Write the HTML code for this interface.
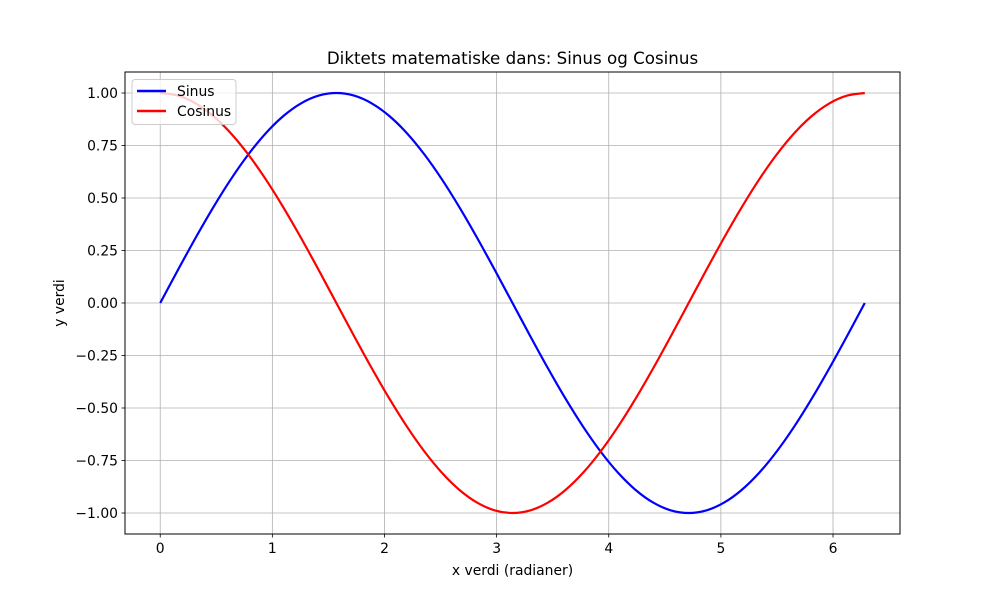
<!DOCTYPE html>
<html><head><meta charset="utf-8"><style>
body{margin:0;background:#fff}
svg text{font-family:"DejaVu Sans","Liberation Sans",sans-serif;fill:#000}
</style></head><body>
<svg id="chart" width="1000" height="600" xmlns="http://www.w3.org/2000/svg">
<rect width="1000" height="600" fill="#fff"/>
<g id="grid"></g>
<g id="series"></g>
<rect x="125" y="72" width="775" height="462" fill="none" stroke="#000" stroke-width="1"/>
<g id="ticks"></g>
<text x="512.5" y="64" font-size="16.7" text-anchor="middle">Diktets matematiske dans: Sinus og Cosinus</text>
<text x="512.5" y="575" font-size="13.9" text-anchor="middle">x verdi (radianer)</text>
<text x="64" y="303" font-size="13.9" text-anchor="middle" transform="rotate(-90 64 303)">y verdi</text>
<g>
<rect x="132" y="79.5" width="104" height="45" rx="3" fill="#fff" fill-opacity="0.8" stroke="#ccc"/>
<g>
<line x1="137" y1="91" x2="166" y2="91" stroke="#0000ff" stroke-width="2.5"/>
<text x="177" y="96" font-size="13.9">Sinus</text></g>
<g>
<line x1="137" y1="111" x2="166" y2="111" stroke="#ff0000" stroke-width="2.5"/>
<text x="177" y="116" font-size="13.9">Cosinus</text></g>
</g>
</svg>
<script>
const xTicks=[0,1,2,3,4,5,6];
const yTicks=[-1.0,-0.75,-0.5,-0.25,0,0.25,0.5,0.75,1.0];
const yTickLabels=["\u22121.00","\u22120.75","\u22120.50","\u22120.25","0.00","0.25","0.50","0.75","1.00"];
const steps=[0,1,2,3,4,5,6,7,8,9,10,11,12,13,14,15,16,17,18,19,20,21,22,23,24,25,26,27,28,29,30,31,32,33,34,35,36,37,38,39,40];
const sinValues=[0,0.1564,0.3090,0.4540,0.5878,0.7071,0.8090,0.8910,0.9511,0.9877,1,0.9877,0.9511,0.8910,0.8090,0.7071,0.5878,0.4540,0.3090,0.1564,0,-0.1564,-0.3090,-0.4540,-0.5878,-0.7071,-0.8090,-0.8910,-0.9511,-0.9877,-1,-0.9877,-0.9511,-0.8910,-0.8090,-0.7071,-0.5878,-0.4540,-0.3090,-0.1564,0];
const cosValues=[1,0.9877,0.9511,0.8910,0.8090,0.7071,0.5878,0.4540,0.3090,0.1564,0,-0.1564,-0.3090,-0.4540,-0.5878,-0.7071,-0.8090,-0.8910,-0.9511,-0.9877,-1,-0.9877,-0.9511,-0.8910,-0.8090,-0.7071,-0.5878,-0.4540,-0.3090,-0.1564,0,0.1564,0.3090,0.4540,0.5878,0.7071,0.8090,0.8910,0.9511,0.9877,1];
const xMax=2*Math.PI;
const X0=125,X1=900,Y0=72,Y1=534;
const xmin=-0.05*xMax,xmax=1.05*xMax,ymin=-1.1,ymax=1.1;
const sx=v=>X0+(v-xmin)/(xmax-xmin)*(X1-X0);
const sy=v=>Y1-(v-ymin)/(ymax-ymin)*(Y1-Y0);
const NS="http://www.w3.org/2000/svg";
function mk(t,a,p){const e=document.createElementNS(NS,t);for(const k in a)e.setAttribute(k,a[k]);p.appendChild(e);return e;}
const grid=document.getElementById('grid'),ticks=document.getElementById('ticks'),series=document.getElementById('series');
xTicks.forEach(v=>{const x=sx(v);
 const g=mk('line',{x1:x,x2:x,y1:Y0,y2:Y1,stroke:'#b0b0b0','stroke-width':0.8},grid);
 
 
 mk('line',{x1:x,x2:x,y1:Y1,y2:Y1+3.5,stroke:'#000','stroke-width':0.8},ticks);
 const t=mk('text',{x:x,y:Y1+19,'font-size':13.9,'text-anchor':'middle'},ticks);t.textContent=v;
 
 
});
yTicks.forEach((v,i)=>{const y=sy(v);
 const g=mk('line',{x1:X0,x2:X1,y1:y,y2:y,stroke:'#b0b0b0','stroke-width':0.8},grid);
 
 
 mk('line',{x1:X0-3.5,x2:X0,y1:y,y2:y,stroke:'#000','stroke-width':0.8},ticks);
 const t=mk('text',{x:X0-7,y:y+5,'font-size':13.9,'text-anchor':'end'},ticks);t.textContent=yTickLabels[i];
 
 
});
function line(vals,color,name){
 const P=steps.map((s,i)=>[sx(s/40*xMax),sy(vals[i])]);
 let d='M'+P[0][0].toFixed(2)+','+P[0][1].toFixed(2);
 for(let i=0;i<P.length-1;i++){
  const p0=P[Math.max(0,i-1)],p1=P[i],p2=P[i+1],p3=P[Math.min(P.length-1,i+2)];
  const c1x=p1[0]+(p2[0]-p0[0])/6,c1y=p1[1]+(p2[1]-p0[1])/6;
  const c2x=p2[0]-(p3[0]-p1[0])/6,c2y=p2[1]-(p3[1]-p1[1])/6;
  d+=' C'+c1x.toFixed(2)+','+c1y.toFixed(2)+' '+c2x.toFixed(2)+','+c2y.toFixed(2)+' '+p2[0].toFixed(2)+','+p2[1].toFixed(2);
 }
 const p=mk('path',{d:d,fill:'none',stroke:color,'stroke-width':2.2,'stroke-linejoin':'round'},series);
 
 
}
line(sinValues,'#0000ff','sinus-line');
line(cosValues,'#ff0000','cosinus-line');
</script>
</body></html>
